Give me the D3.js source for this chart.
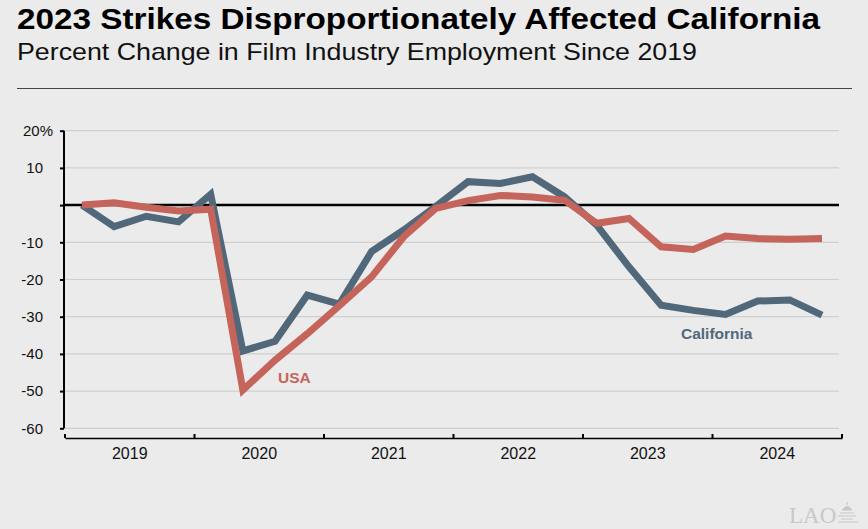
<!DOCTYPE html>
<html>
<head>
  <meta charset="utf-8">
  <title>2023 Strikes Disproportionately Affected California</title>
  <script src="https://cdn.jsdelivr.net/npm/d3@7"></script>
  <style>
    body { margin: 0; background: #ebebeb; }
    svg { display: block; font-family: "Liberation Sans", Arial, sans-serif; }
    .tick text { font-size: 15px; fill: #111; }
  </style>
</head>
<body>
<svg id="chart" width="868" height="529"></svg>
<script>
  // 1. data (quarterly, percent change since 2019)
  var years = ["2019", "2020", "2021", "2022", "2023", "2024"];
  var quarters = [];
  years.forEach(function(y){ for (var q = 1; q <= 4; q++) quarters.push(y + " Q" + q); });

  var california = [0, -5.8, -3.0, -4.5, 2.9, -39.2, -36.6, -24.2, -26.6, -12.5, -6.7, -0.3,
                    6.3, 5.8, 7.6, 2.2, -5.4, -16.6, -26.9, -28.3, -29.4, -25.8, -25.5, -29.6];
  var usa = [0, 0.6, -0.6, -1.6, -1.1, -49.7, -41.7, -34.6, -27.0, -19.3, -8.5, -0.9,
             1.2, 2.6, 2.2, 1.3, -4.9, -3.6, -11.2, -11.9, -8.3, -9.0, -9.2, -9.0];
  var yTicks = [20, 10, 0, -10, -20, -30, -40, -50, -60];

  // 2. layout
  var svg = d3.select("#chart");
  var plotLeft = 64, plotTop = 130.7, plotBottom = 428.3, gridRight = 839, xAxisY = 438;

  // 3. scales
  var y = d3.scaleLinear().domain([-60, 20]).range([plotBottom, plotTop]);
  var xYear = d3.scaleBand().domain(years).range([65, 842]);
  var x = d3.scalePoint().domain(quarters).range([82, 822]);

  // 4. titles
  svg.append("text").attr("x", 17).attr("y", 29)
    .attr("textLength", 803).attr("lengthAdjust", "spacingAndGlyphs")
    .style("font-size", "30px").style("font-weight", "bold").style("fill", "#000")
    .text("2023 Strikes Disproportionately Affected California");
  svg.append("text").attr("x", 17).attr("y", 60)
    .attr("textLength", 680).attr("lengthAdjust", "spacingAndGlyphs")
    .style("font-size", "24px").style("fill", "#111")
    .text("Percent Change in Film Industry Employment Since 2019");
  svg.append("line").attr("x1", 17).attr("x2", 852).attr("y1", 88.5).attr("y2", 88.5)
    .style("stroke", "#444").style("stroke-width", 1);

  // 5. gridlines
  svg.append("g").selectAll("line").data(yTicks.filter(function(d){ return d !== 0; }))
    .enter().append("line")
    .attr("x1", plotLeft).attr("x2", gridRight)
    .attr("y1", function(d){ return y(d); }).attr("y2", function(d){ return y(d); })
    .style("stroke", "#cfcfcf").style("stroke-width", 1.2);

  // 6. y axis
  var yAxis = svg.append("g").attr("transform", "translate(" + plotLeft + ",0)")
    .call(d3.axisLeft(y).tickValues(yTicks).tickSize(4).tickPadding(17)
      .tickFormat(function(d){ return d === 0 ? "" : d; }));
  yAxis.select(".domain").attr("d", "M0," + plotTop + "V" + plotBottom)
    .style("stroke", "#000").style("stroke-width", 2);
  yAxis.selectAll(".tick line").style("stroke", "#000").style("stroke-width", 2);
  yAxis.selectAll(".tick").filter(function(d){ return d === 20; }).select("text")
    .attr("text-anchor", "start").attr("x", -41).text("20%");

  // zero line
  svg.append("line").attr("x1", plotLeft).attr("x2", gridRight).attr("y1", y(0)).attr("y2", y(0))
    .style("stroke", "#000").style("stroke-width", 2.5);

  // 7. x axis
  var xAxis = svg.append("g").attr("transform", "translate(0," + xAxisY + ")")
    .call(d3.axisTop(xYear).tickSize(0).tickSizeOuter(0).tickFormat(""));
  xAxis.select(".domain").style("stroke", "#000").style("stroke-width", 1.5);
  xAxis.selectAll(".bound").data(d3.range(years.length + 1)).enter().append("line")
    .attr("x1", function(i){ return 65 + i * xYear.step(); })
    .attr("x2", function(i){ return 65 + i * xYear.step(); })
    .attr("y1", 0).attr("y2", -4).style("stroke", "#000").style("stroke-width", 2);
  xAxis.selectAll(".yl").data(years).enter().append("text")
    .attr("x", function(d){ return xYear(d) + xYear.bandwidth() / 2; })
    .attr("y", 21).attr("text-anchor", "middle")
    .style("font-size", "16px").style("fill", "#111")
    .text(function(d){ return d; });

  // 8. lines
  var line = d3.line()
    .x(function(d, i){ return x(quarters[i]); })
    .y(function(d){ return y(d); });
  svg.append("path").datum(california).attr("d", line)
    .style("fill", "none").style("stroke", "#51687a").style("stroke-width", 7)
    .style("stroke-linejoin", "miter");
  svg.append("path").datum(usa).attr("d", line)
    .style("fill", "none").style("stroke", "#c5645a").style("stroke-width", 7)
    .style("stroke-linejoin", "miter");

  // 9. labels
  svg.append("text").attr("x", 278).attr("y", 383)
    .style("font-size", "15.5px").style("font-weight", "bold").style("fill", "#c5645a").text("USA");
  svg.append("text").attr("x", 681).attr("y", 339)
    .style("font-size", "15.5px").style("font-weight", "bold").style("fill", "#51687a").text("California");

  // 10. LAO mark
  var logo = svg.append("g").style("fill", "#c8c8c8");
  logo.append("text").attr("x", 789).attr("y", 523)
    .style("font-family", "'Liberation Serif', serif").style("font-size", "23px").text("LAO");
  var lg = logo.append("g").attr("transform", "translate(838,502)").style("stroke", "#c8c8c8").style("fill", "none");
  lg.append("path").attr("d", "M4,8 Q9,1 14,8 Z").style("fill", "#c8c8c8");
  lg.append("path").attr("d", "M9,0 V3 M2,11 H16 M0,14 H18 M3,17 H15 M0,20 H20").style("stroke-width", 1.2);
</script>
</body>
</html>
